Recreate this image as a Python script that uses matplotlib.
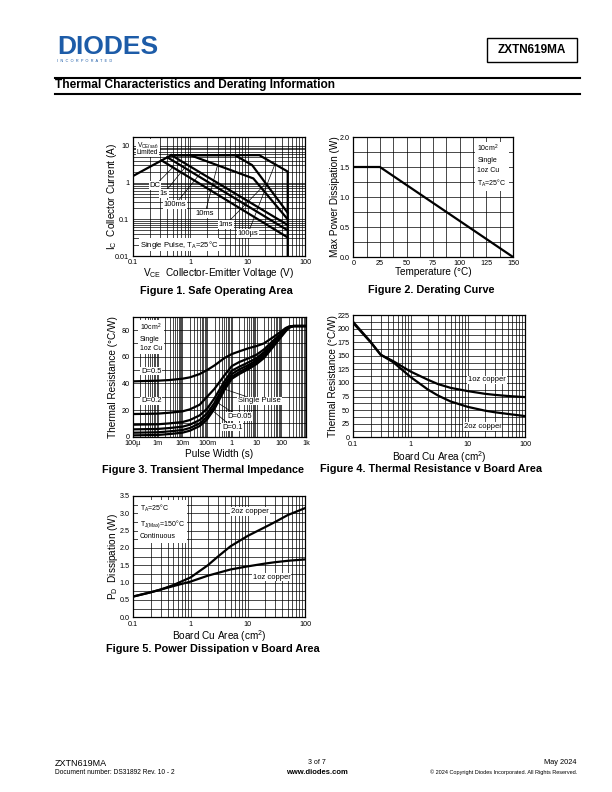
import matplotlib
matplotlib.use('Agg')
import matplotlib.pyplot as plt
from matplotlib.ticker import MultipleLocator, LogLocator, NullFormatter
from matplotlib.patches import Rectangle
from matplotlib.lines import Line2D

plt.rcParams['font.family'] = ['Liberation Sans', 'DejaVu Sans']
plt.rcParams['mathtext.fontset'] = 'custom'
plt.rcParams['mathtext.rm'] = 'Liberation Sans'
plt.rcParams['mathtext.it'] = 'Liberation Sans'

# ---- Figure 1: safe operating area (V, A)
soa_vsat_v = [0.1, 0.47]
soa_vsat_i = [1.5, 5.6]
soa_100us_v = [0.47, 16, 50, 50]
soa_100us_i = [5.6, 5.6, 2.0, 0.01]
soa_1ms_v = [0.47, 6, 12, 50]
soa_1ms_i = [5.6, 5.6, 3.0, 0.15]
soa_10ms_v = [0.47, 1.0, 12.6, 50]
soa_10ms_i = [5.6, 5.6, 1.3, 0.1]
soa_100ms_v = [0.47, 50]
soa_100ms_i = [5.6, 0.07]
soa_1s_v = [0.4, 50]
soa_1s_i = [4.9, 0.05]
soa_dc_v = [0.32, 50]
soa_dc_i = [4.0, 0.032]

# ---- Figure 2: derating curve
derate_temp = [0, 25, 150]
derate_power = [1.5, 1.5, 0.0]

# ---- Figure 3: transient thermal impedance
zth_pulse = [1e-4, 1e-3, 3e-3, 1e-2, 2e-2, 5e-2, 0.1, 0.2, 0.5, 1, 2, 5, 10,
             20, 50, 100, 150, 200, 300, 1000]
zth_d05 = [41.5, 42, 42.5, 43.5, 44.5, 47, 50, 53.5, 59, 62, 64, 66.5, 68,
           70, 75, 79, 81.5, 82.5, 83, 83]
zth_d02 = [17, 17.3, 18, 19, 20.5, 24, 30, 36, 46, 53, 56, 59, 61.5,
           65.5, 72.5, 77.5, 81, 82.5, 83, 83]
zth_d01 = [9, 9.3, 10, 11, 12.5, 16, 21, 29, 41.5, 49.5, 52.5, 56, 59,
           63.5, 71, 76.5, 80, 82, 83, 83]
zth_d005 = [5.5, 5.8, 6.5, 7.5, 9, 12.5, 17.5, 25.5, 39, 47, 50.5, 54, 57.5,
            62, 70, 76, 80, 82, 83, 83]
zth_d002 = [3, 3.3, 4, 5, 6.5, 10, 15, 23, 37, 45, 48.5, 52.5, 56,
            60.5, 69, 75.5, 79.5, 82, 83, 83]
zth_single = [1, 1.3, 2, 3, 4.5, 8, 13, 21, 35, 43.5, 47, 51, 54.5,
              59, 68, 75, 79, 81.5, 83, 83]
zth_tick_vals = [1e-4, 1e-3, 1e-2, 1e-1, 1, 10, 100, 1000]
zth_tick_text = ['100µ', '1m', '10m', '100m', '1', '10', '100', '1k']

# ---- Figure 4 / 5: board copper area
area_cm2 = [0.1, 0.2, 0.3, 0.5, 1, 2, 3, 5, 10, 20, 30, 50, 100]
rth_1oz = [210, 175, 152, 140, 121, 106, 98, 91, 85, 80, 78, 76, 74]
rth_2oz = [212, 176, 152, 138, 111, 88, 77, 66, 56, 49, 46, 43, 39]
pd_1oz = [0.6, 0.72, 0.8, 0.9, 1.03, 1.2, 1.28, 1.38, 1.47, 1.55, 1.59, 1.63, 1.67]
pd_2oz = [0.6, 0.72, 0.8, 0.93, 1.15, 1.5, 1.75, 2.05, 2.35, 2.6, 2.75, 2.95, 3.15]

W, H = 612, 792
fig = plt.figure(figsize=(W / 100, H / 100), dpi=100)

TICK = 5.2
LAB = 7.2
LW = 1.6
BOX = dict(facecolor='white', edgecolor='none', pad=0.6)


def px_axes(x0, y0, x1, y1):
    return fig.add_axes([x0 / W, 1 - y1 / H, (x1 - x0) / W, (y1 - y0) / H])


def style(ax, xlabel, ylabel, xlab_top, ylab_right):
    ax.tick_params(which='both', length=0, pad=2.5, labelsize=TICK)
    for s in ax.spines.values():
        s.set_linewidth(0.9)
    ax.grid(True, which='both', color='black', linewidth=0.5)
    ax.set_axisbelow(True)
    ax.set_xlabel(xlabel, fontsize=LAB)
    ax.set_ylabel(ylabel, fontsize=LAB)
    b = ax.get_position()
    ax.xaxis.set_label_coords(b.x0 + b.width / 2, 1 - xlab_top / H,
                              transform=fig.transFigure)
    ax.yaxis.set_label_coords(ylab_right / W, b.y0 + b.height / 2,
                              transform=fig.transFigure)


def log_minor(axis):
    axis.set_minor_locator(LogLocator(base=10, subs=range(2, 10), numticks=20))
    axis.set_minor_formatter(NullFormatter())


def title(text, cx, cy):
    fig.text(cx / W, 1 - cy / H, text, fontsize=7.8, fontweight='bold',
             ha='center', va='center')


# ---------- Figure 1
ax1 = px_axes(132.7, 137, 305, 256)
ax1.set_xscale('log')
ax1.set_yscale('log')
ax1.set_xlim(0.1, 100)
ax1.set_ylim(0.01, 17.5)
ax1.set_xticks([0.1, 1, 10, 100], ['0.1', '1', '10', '100'])
ax1.set_yticks([0.01, 0.1, 1, 10], ['0.01', '0.1', '1', '10'])
log_minor(ax1.xaxis)
log_minor(ax1.yaxis)
for v, i in [(soa_vsat_v, soa_vsat_i), (soa_100us_v, soa_100us_i),
             (soa_1ms_v, soa_1ms_i), (soa_10ms_v, soa_10ms_i),
             (soa_100ms_v, soa_100ms_i), (soa_1s_v, soa_1s_i),
             (soa_dc_v, soa_dc_i)]:
    ax1.plot(v, i, color='black', lw=LW, solid_joinstyle='miter')
style(ax1, r'V$_\mathregular{CE}$  Collector-Emitter Voltage (V)',
      r'I$_\mathregular{C}$  Collector Current (A)', 266, 119)
ax1.text(0.118, 10.5, r'V$_\mathregular{CE(sat)}$', fontsize=4.8, va='center',
         bbox=BOX)
ax1.text(0.118, 6.6, 'Limited', fontsize=4.8, va='center', bbox=BOX)
soa_labels = [('DC', (0.245, 0.84), (0.5, 2.6)),
              ('1s', (0.35, 0.51), (0.8, 2.5)),
              ('100ms', (0.55, 0.256), (1.5, 1.78)),
              ('10ms', (1.82, 0.146), (3.0, 2.97)),
              ('1ms', (4.2, 0.073), (20, 0.89)),
              ('100µs', (10.2, 0.0415), (30, 3.2))]
for txt, xyt, xy in soa_labels:
    ax1.annotate(txt, xy=xy, xytext=xyt, fontsize=5.5, ha='center',
                 va='center', bbox=BOX,
                 arrowprops=dict(arrowstyle='-', lw=0.5, color='black',
                                 shrinkA=0, shrinkB=0))
ax1.text(0.134, 0.0205, r'Single Pulse, T$_\mathregular{A}$=25°C',
         fontsize=5.5, va='center', bbox=BOX)
title('Figure 1. Safe Operating Area', 216, 291)

# ---------- Figure 2
ax2 = px_axes(353.3, 137, 513, 257)
ax2.set_xlim(0, 150)
ax2.set_ylim(0, 2)
ax2.xaxis.set_major_locator(MultipleLocator(25))
ax2.xaxis.set_minor_locator(MultipleLocator(12.5))
ax2.yaxis.set_major_locator(MultipleLocator(0.5))
ax2.yaxis.set_minor_locator(MultipleLocator(0.25))
ax2.yaxis.set_major_formatter(lambda v, p: f'{v:.1f}')
ax2.plot(derate_temp, derate_power, color='black', lw=LW)
style(ax2, 'Temperature (°C)', 'Max Power Dissipation (W)', 267, 340)
ax2.text(116.5, 1.9, '10cm$^\\mathregular{2}$\nSingle\n1oz Cu\n'
         r'T$_\mathregular{A}$=25°C', fontsize=5.0, va='top', ha='left',
         linespacing=1.55, bbox=dict(facecolor='white', edgecolor='none', pad=1.5))
title('Figure 2. Derating Curve', 431, 290)

# ---------- Figure 3
ax3 = px_axes(133, 316.7, 306, 436.7)
ax3.set_xscale('log')
ax3.set_xlim(1e-4, 1e3)
ax3.set_ylim(0, 90)
ax3.set_xticks(zth_tick_vals, zth_tick_text)
log_minor(ax3.xaxis)
ax3.yaxis.set_major_locator(MultipleLocator(20))
ax3.yaxis.set_minor_locator(MultipleLocator(10))
for series in [zth_d05, zth_d02, zth_d01, zth_d005, zth_d002, zth_single]:
    ax3.plot(zth_pulse, series, color='black', lw=LW)
style(ax3, 'Pulse Width (s)', 'Thermal Resistance (°C/W)', 449, 118)
ax3.text(1.9e-4, 86, '10cm$^\\mathregular{2}$\nSingle\n1oz Cu', fontsize=5.0,
         va='top', ha='left', linespacing=1.5,
         bbox=dict(facecolor='white', edgecolor='none', pad=1.2))
ax3.text(2.1e-4, 49.2, 'D=0.5', fontsize=5.5, va='center', bbox=BOX)
ax3.text(2.1e-4, 26.8, 'D=0.2', fontsize=5.5, va='center', bbox=BOX)
for txt, xyt, xy in [('Single Pulse', (1.77, 26.8), (0.45, 36)),
                     ('D=0.05', (0.64, 14.9), (0.2, 27)),
                     ('D=0.1', (0.4, 7.2), (0.1, 23))]:
    ax3.annotate(txt, xy=xy, xytext=xyt, fontsize=5.5, ha='left',
                 va='center', bbox=BOX,
                 arrowprops=dict(arrowstyle='-', lw=0.5, color='black',
                                 shrinkA=0, shrinkB=0))
title('Figure 3. Transient Thermal Impedance', 203, 470)

# ---------- Figure 4
ax4 = px_axes(353.3, 315, 525, 437.3)
ax4.set_xscale('log')
ax4.set_xlim(0.1, 100)
ax4.set_ylim(0, 225)
ax4.set_xticks([0.1, 1, 10, 100], ['0.1', '1', '10', '100'])
log_minor(ax4.xaxis)
ax4.yaxis.set_major_locator(MultipleLocator(25))
ax4.yaxis.set_minor_locator(MultipleLocator(12.5))
ax4.plot(area_cm2, rth_1oz, color='black', lw=LW)
ax4.plot(area_cm2, rth_2oz, color='black', lw=LW)
style(ax4, 'Board Cu Area (cm$^\\mathregular{2}$)', 'Thermal Resistance (°C/W)',
      449, 338)
ax4.text(21.7, 105.6, '1oz copper', fontsize=5.5, ha='center', va='center',
         bbox=BOX)
ax4.text(18.2, 19.5, '2oz copper', fontsize=5.5, ha='center', va='center',
         bbox=BOX)
title('Figure 4. Thermal Resistance v Board Area', 431, 469)

# ---------- Figure 5
ax5 = px_axes(133.3, 496, 305, 617.3)
ax5.set_xscale('log')
ax5.set_xlim(0.1, 100)
ax5.set_ylim(0, 3.5)
ax5.set_xticks([0.1, 1, 10, 100], ['0.1', '1', '10', '100'])
log_minor(ax5.xaxis)
ax5.yaxis.set_major_locator(MultipleLocator(0.5))
ax5.yaxis.set_minor_locator(MultipleLocator(0.25))
ax5.yaxis.set_major_formatter(lambda v, p: f'{v:.1f}')
ax5.plot(area_cm2, pd_2oz, color='black', lw=LW)
ax5.plot(area_cm2, pd_1oz, color='black', lw=LW)
style(ax5, 'Board Cu Area (cm$^\\mathregular{2}$)',
      r'P$_\mathregular{D}$  Dissipation (W)', 628, 120)
ax5.text(0.131, 3.3, r'T$_\mathregular{A}$=25°C' '\n'
         r'T$_\mathregular{J(Max)}$=150°C' '\nContinuous', fontsize=5.0,
         va='top', ha='left', linespacing=1.6,
         bbox=dict(facecolor='white', edgecolor='none', pad=1.5))
ax5.text(10.96, 3.05, '2oz copper', fontsize=5.5, ha='center', va='center',
         bbox=BOX)
ax5.text(26, 1.16, '1oz copper', fontsize=5.5, ha='center', va='center',
         bbox=BOX)
title('Figure 5. Power Dissipation v Board Area', 213, 649)

# ---------- page header / footer
fig.text(57 / W, 1 - 47 / H, 'DIODES', fontsize=19, fontweight='bold',
         color='#1d5ca8', ha='left', va='center')
fig.text(57 / W, 1 - 61.5 / H, 'I  N  C  O  R  P  O  R  A  T  E  D',
         fontsize=2.8, color='#1d5ca8', ha='left', va='center')
fig.patches.append(Rectangle((487 / W, 1 - 62 / H), 90 / W, 24 / H,
                             transform=fig.transFigure, fill=False,
                             edgecolor='black', linewidth=1.0))
fig.text(532 / W, 1 - 50 / H, 'ZXTN619MA', fontsize=8.5, fontweight='bold',
         ha='center', va='center')
for yy in (78, 94):
    fig.add_artist(Line2D([55 / W, 580 / W], [1 - yy / H, 1 - yy / H],
                          transform=fig.transFigure, color='black', lw=1.5))
fig.text(55 / W, 1 - 85 / H, 'Thermal Characteristics and Derating Information',
         fontsize=8.6, fontweight='bold', ha='left', va='center')

fig.text(55 / W, 1 - 763 / H, 'ZXTN619MA', fontsize=6.5, ha='left', va='center')
fig.text(55 / W, 1 - 772.5 / H, 'Document number: DS31892 Rev. 10 - 2',
         fontsize=4.8, ha='left', va='center')
fig.text(317 / W, 1 - 763 / H, '3 of 7', fontsize=5, ha='center', va='center')
fig.text(317 / W, 1 - 772.5 / H, 'www.diodes.com', fontsize=5.5,
         fontweight='bold', ha='center', va='center')
fig.text(577 / W, 1 - 763 / H, 'May 2024', fontsize=5.3, ha='right', va='center')
fig.text(577 / W, 1 - 772 / H,
         '© 2024 Copyright Diodes Incorporated. All Rights Reserved.',
         fontsize=4.0, ha='right', va='center')

fig.savefig('out.png', dpi=100)
